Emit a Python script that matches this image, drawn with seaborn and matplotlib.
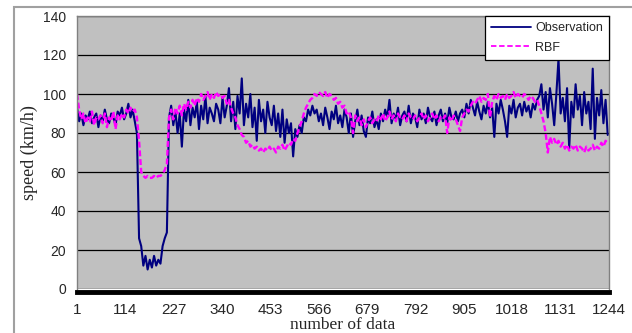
import numpy as np
import pandas as pd
import matplotlib
matplotlib.use("Agg")
import matplotlib.pyplot as plt
import seaborn as sns
from matplotlib.patches import Rectangle
from matplotlib.lines import Line2D

# Speed readings, one value every 5 samples (samples 1, 6, 11, ...)
observation = [
    93, 86, 90, 84, 89, 87, 91, 85, 88, 90, 83, 89, 86, 92, 87, 85, 90, 88, 84, 91,
    89, 93, 87, 90, 95, 88, 92, 86, 80,
    26, 22, 12, 17, 10, 15, 11, 17, 12, 15, 13, 22, 26, 29,
    88, 94, 84, 91, 80, 90, 73, 92, 86, 97, 84, 93, 88, 96, 82, 94, 87, 99, 85, 93,
    90, 86, 95,
    92, 85, 98, 88, 94, 103, 86, 96, 82, 99, 90, 108, 84, 95, 88, 100, 83, 93, 76, 97,
    86, 92, 80, 96, 88, 84, 94, 81, 90, 78, 92, 75, 87, 80, 85, 68, 82, 78,
    84, 80, 88, 86, 92, 89, 94, 90,
    92, 86, 90, 84, 93, 88, 82, 91, 87, 94, 85, 89, 83, 92, 88, 80, 90, 78, 86, 92,
    84, 89, 81, 78, 88, 85, 91, 83,
    87, 82, 90, 86, 92, 88, 97, 85, 90, 87, 93, 84, 89, 91, 86, 94, 85, 90, 88, 83,
    92, 87, 90, 85, 93, 88, 86, 91, 84, 89, 92, 86, 90, 85, 93, 88, 87, 91, 86, 90,
    92, 88, 95, 90, 97, 93, 89, 96, 91, 87, 94, 90, 96, 88, 93, 78, 95, 90, 97, 92,
    86, 78, 94, 90, 97, 88, 93, 95, 89, 96, 91, 94, 88, 95, 92, 97,
    99, 105, 92, 101, 88, 103, 95, 84, 100, 118, 90, 98, 86, 103, 72, 96, 88, 105, 92, 99,
    84, 101, 90, 96, 82, 113, 77, 98, 89, 102, 85, 97, 79,
]

rbf = [
    100, 92, 87, 90, 85, 88, 86, 91, 84, 88, 87, 89, 85, 90, 83, 88, 86, 91, 82, 89,
    87, 90, 88, 92, 90, 93, 91, 92, 88,
    76, 60, 58, 57, 58, 57, 57, 58, 57, 58, 58, 59, 61, 64,
    88, 92, 87, 93, 90, 94, 89, 95, 92, 96, 93, 97, 94, 98, 96, 100, 97, 99, 101, 97,
    100, 98, 101,
    99, 100, 98, 99, 95, 97, 93, 90, 88, 84, 82, 79, 78, 75, 76, 73, 74, 72, 73, 71,
    72, 70, 72, 71, 73, 71, 72, 70, 73, 72, 74, 71, 73, 75, 74, 77, 76, 80,
    83, 86, 90, 93, 95, 97, 98, 100,
    99, 101, 100, 99, 101, 98, 100, 99, 97, 98, 95, 96, 93, 94, 90, 91, 88, 80, 89, 86,
    88, 84, 87, 83, 86, 88, 85, 87,
    86, 89, 87, 90, 86, 88, 91, 87, 89, 86, 90, 88, 87, 89, 86, 90, 88, 87, 89, 86,
    88, 90, 87, 89, 86, 88, 90, 87, 89, 86, 88, 87, 89, 80, 88, 86, 89, 87, 84, 81,
    88, 90, 92, 91, 94, 96, 95, 97, 99, 96, 98, 97, 100, 88, 96, 99, 97, 100, 98, 99,
    97, 100, 98, 99, 101, 98, 100, 99, 98, 100, 99, 97, 99, 98, 96, 97,
    94, 90, 86, 80, 70, 78, 75, 77, 74, 76, 73, 75, 72, 74, 71, 73, 72, 74, 71, 73,
    72, 70, 73, 71, 72, 74, 71, 73, 72, 75, 73, 76, 75,
]

x_ticks = [1, 114, 227, 340, 453, 566, 679, 792, 905, 1018, 1131, 1244]
series_names = ["Observation", "RBF"]

df = pd.concat([
    pd.DataFrame({"n": 1 + 5 * np.arange(len(observation)), "speed": observation,
                  "series": series_names[0]}),
    pd.DataFrame({"n": 1 + 5 * np.arange(len(rbf)), "speed": rbf,
                  "series": series_names[1]}),
])

sns.set_theme(style="white")
plt.rcParams["font.family"] = ["Liberation Sans", "DejaVu Sans"]

fig = plt.figure(figsize=(6.32, 3.33), dpi=100)
ax = fig.add_axes([77 / 632, 1 - 289 / 333, (609 - 77) / 632, (289 - 16) / 333])
ax.set_facecolor("#c0c0c0")

palette = {"Observation": "#000080", "RBF": "#ff00ff"}
sns.lineplot(data=df[df.series == "Observation"], x="n", y="speed",
             color=palette["Observation"], linewidth=1.5, ax=ax, legend=False)
sns.lineplot(data=df[df.series == "RBF"], x="n", y="speed",
             color=palette["RBF"], linewidth=1.7, dashes=False, ax=ax, legend=False)
ax.lines[1].set_dashes((2.5, 1.2))

ax.set_xlim(1, 1244)
ax.set_ylim(0, 140)
ax.set_yticks(range(0, 141, 20))
ax.set_xticks(x_ticks)
ax.set_xticklabels([str(t) for t in x_ticks], fontsize=10)
ax.tick_params(axis="y", labelsize=10, length=5, width=0.8, color="black",
               direction="out", pad=3)
ax.tick_params(axis="x", length=0, pad=8)
ax.grid(axis="y", color="black", linewidth=0.9)
ax.set_axisbelow(True)

for side in ("top", "right", "left"):
    ax.spines[side].set_color("#808080")
    ax.spines[side].set_linewidth(1.0)
ax.spines["bottom"].set_color("black")
ax.spines["bottom"].set_linewidth(3.5)
ax.spines["bottom"].set_position(("outward", 2))

ax.set_xlabel("number of data", family="Liberation Serif", fontsize=12.5, labelpad=0)
ax.set_ylabel("speed (km/h)", family="Liberation Serif", fontsize=13, labelpad=3)

handles = [Line2D([], [], color="#000080", lw=1.3),
           Line2D([], [], color="#ff00ff", lw=1.3, dashes=(3, 1.5))]
leg = ax.legend(handles, series_names, loc="upper right", fontsize=9,
                frameon=True, fancybox=False, borderaxespad=0,
                handlelength=3.2, handletextpad=0.3, labelspacing=0.6,
                borderpad=0.5)
leg.get_frame().set_edgecolor("black")
leg.get_frame().set_linewidth(0.9)
leg.get_frame().set_facecolor("white")
leg.get_frame().set_alpha(1)

# sheet border around the chart
fig.add_artist(Rectangle((14 / 632, -0.1), 1.2, 1 - 7 / 333 + 0.1,
                         transform=fig.transFigure, fill=False,
                         edgecolor="#a0a0a0", linewidth=1.5))

fig.savefig("out.png", dpi=100)
